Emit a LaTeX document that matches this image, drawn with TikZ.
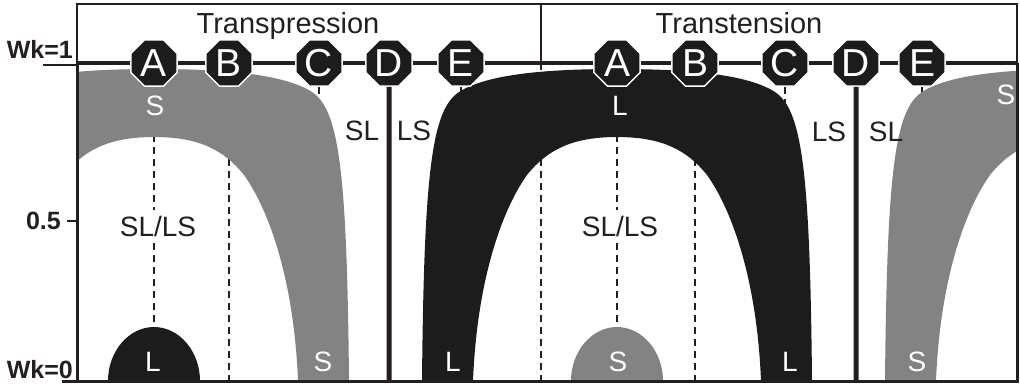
\documentclass[tikz,border=0pt]{standalone}
\usepackage{fontspec}
\setmainfont{Liberation Sans}
\usetikzlibrary{shapes.geometric}
\definecolor{ink}{HTML}{231F20}
\definecolor{halftone}{HTML}{838383}
\definecolor{dark}{HTML}{1C1C1C}
\tikzset{
    lbl/.style = {align=center, inner sep=0pt, text=ink, font=\fontsize{28}{30}\selectfont},
    wlbl/.style = {lbl, text=white},
    mixlbl/.style = {lbl, fill=white, inner xsep=2pt, inner ysep=6pt},
    ttl/.style = {lbl, anchor=base, font=\fontsize{29}{31}\selectfont},
    axlbl/.style = {inner sep=0pt, text=ink, anchor=base east, font=\bfseries\fontsize{25}{27}\selectfont},
    octnode/.style = {regular polygon, regular polygon sides=8, minimum size=50pt, inner sep=0pt, fill=dark, draw=white, line width=1.5pt, text=white, font=\fontsize{39}{41}\selectfont},
    guide/.style = {ink, line width=1.2pt, dash pattern=on 7pt off 5pt},
    topline/.style = {ink, line width=4pt},
    dline/.style = {ink, line width=5pt},
    thinframe/.style = {ink, line width=1.5pt},
    thickframe/.style = {ink, line width=3pt}
}
% one arch of the pattern, centred at #1
\newcommand{\arch}[2]{\fill[#2, xshift=#1pt] (-195,381) .. controls (-193,170) and (-185,110) .. (-158,92)
    .. controls (-130,74) and (-70,69) .. (0,69) .. controls (70,69) and (130,74) .. (158,92)
    .. controls (185,110) and (193,170) .. (195,381) -- (144,381)
    .. controls (140,280) and (115,210) .. (90,175) .. controls (70,150) and (45,137) .. (0,137)
    .. controls (-45,137) and (-70,150) .. (-90,175) .. controls (-115,210) and (-140,280) .. (-144,381) -- cycle;}
\newcommand{\dome}[2]{\fill[#2, xshift=#1pt] (-46,381) .. controls (-46,351) and (-25,327) .. (0,327)
    .. controls (25,327) and (46,351) .. (46,381) -- cycle;}

\begin{document}
\begin{tikzpicture}[x=1pt, y=-1pt]
    \useasboundingbox (0,0) rectangle (1020,384);
    \coordinate (bot) at (0,381);
    \coordinate (mid) at (541,63);
    \foreach \n/\x in {A1/154, B1/229, C1/319, D1/389, E1/461, A2/617, B2/695, C2/785, D2/856, E2/922}
        \coordinate (p\n) at (\x,63);

    % guide lines, behind the fields
    \foreach \n in {A1, B1, C1, E1, A2, B2, C2, E2}
        \draw[guide] (p\n) -- (p\n |- bot);
    \draw[guide] (mid) -- (mid |- bot);

    \begin{scope}
        \clip (77,63) rectangle (1017,381);
        \arch{154}{halftone}
        \arch{617}{dark}
        \arch{1080}{halftone}
        \dome{154}{dark}
        \dome{617}{halftone}
    \end{scope}

    % field labels
    \node[wlbl] (s1) at (155,106) {S};
    \node[wlbl] (l2) at (620,106) {L};
    \node[wlbl] (s3) at (1006,95) {S};
    \node[lbl] (sl1) at (362,131) {SL};
    \node[lbl] (ls1) at (414,131) {LS};
    \node[lbl] (ls2) at (829,132) {LS};
    \node[lbl] (sl2) at (886,132) {SL};
    \node[mixlbl] (mix1) at (158,226) {SL/LS};
    \node[mixlbl] (mix2) at (620,226) {SL/LS};
    \node[wlbl] (bl1) at (153,362) {L};
    \node[wlbl] (bs1) at (323,362) {S};
    \node[wlbl] (bl2) at (453,362) {L};
    \node[wlbl] (bs2) at (618,362) {S};
    \node[wlbl] (bl3) at (790,362) {L};
    \node[wlbl] (bs3) at (917,362) {S};

    % frame
    \draw[thinframe] (77,63) -- (77,4) -- (1017,4) -- (1017,63);
    \draw[thinframe] (mid) -- (541,4);
    \draw[thickframe] (77,63) -- (77,381) -- (1017,381) -- (1017,63);
    \node[ttl] (trp) at (288,33) {Transpression};
    \node[ttl] (trt) at (739,33) {Transtension};

    % axis
    \draw[thinframe] (43,65) -- (77,65);
    \draw[thinframe] (67,221) -- (77,221);
    \draw[thickframe] (62,381) -- (77,381);
    \node[axlbl] (wk1) at (73,58) {Wk=1};
    \node[axlbl] (half) at (61,229) {0.5};
    \node[axlbl] (wk0) at (73,378) {Wk=0};

    \draw[topline] (77,63) -- (1017,63);
    \foreach \n/\l in {A1/A, B1/B, C1/C, D1/D, E1/E, A2/A, B2/B, C2/C, D2/D, E2/E}
        \node[octnode] (\n) at (p\n) {\l};
    \draw[dline] (D1.south) -- (D1 |- bot);
    \draw[dline] (D2.south) -- (D2 |- bot);
\end{tikzpicture}
\end{document}
